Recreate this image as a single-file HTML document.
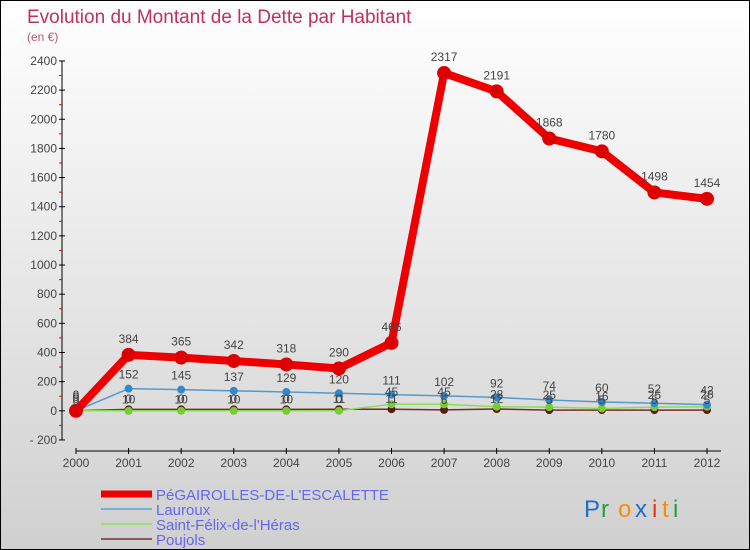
<!DOCTYPE html>
<html><head><meta charset="utf-8"><style>
body{margin:0}
#c{width:750px;height:550px;position:relative;box-sizing:border-box;border:1px solid #000;background:linear-gradient(#ffffff,#d0d0d0);overflow:hidden;font-family:"Liberation Sans",sans-serif}
</style></head><body>
<div id="c">
<svg id="s" width="750" height="550"></svg>
</div>
<script>
const years=[2000,2001,2002,2003,2004,2005,2006,2007,2008,2009,2010,2011,2012];
const pegairolles=[0,384,365,342,318,290,466,2317,2191,1868,1780,1498,1454];
const lauroux=[0,152,145,137,129,120,111,102,92,74,60,52,42];
const stfelix=[0,0,0,0,0,0,45,45,28,25,16,25,28];
const poujols=[0,10,10,10,10,11,11,6,12,5,5,5,5];
const yTicks=[-200,0,200,400,600,800,1000,1200,1400,1600,1800,2000,2200,2400];
const NS="http://www.w3.org/2000/svg";
const svg=document.getElementById('s');
function X(i){return 75+i*(706-75)/12;}
function Y(v){return 409.8-v*(379/2600);}
function el(t,a,txt){const e=document.createElementNS(NS,t);for(const k in a)e.setAttribute(k,a[k]);if(txt!==undefined)e.textContent=txt;svg.appendChild(e);return e;}
let t=el('text',{x:26,y:22,'font-size':19,fill:'#c0305a'},'Evolution du Montant de la Dette par Habitant');

t=el('text',{x:26,y:40,'font-size':12,fill:'#c0507a'},'(en €)');

let a=el('line',{x1:61,y1:Y(2400),x2:61,y2:Y(-200),stroke:'#000','stroke-width':1});

yTicks.forEach((v,i)=>{
  let l=el('line',{x1:58,y1:Y(v),x2:64,y2:Y(v),stroke:'#000'});
  
  if(i<yTicks.length-1){let m=el('line',{x1:58,y1:Y(v+100),x2:61,y2:Y(v+100),stroke:'#e00'});}
  let tx=el('text',{x:56,y:Y(v)+4,'font-size':12,fill:'#444','text-anchor':'end'},v===-200?'- 200':String(v));
  
});
a=el('line',{x1:75,y1:450,x2:720,y2:450,stroke:'#000'});

years.forEach((y,i)=>{
  let l=el('line',{x1:X(i),y1:447,x2:X(i),y2:453,stroke:'#000'});
  
  let tx=el('text',{x:X(i),y:466,'font-size':12,fill:'#444','text-anchor':'middle'},String(y));
  
});
function series(data,color,w,r,dot,name,labelOff){
  const p=data.map((v,i)=>X(i)+','+Y(v)).join(' ');
  let pl=el('polyline',{points:p,fill:'none',stroke:color,'stroke-width':w,'stroke-linejoin':'round'});
  
  data.forEach((v,i)=>{
    let c=el('circle',{cx:X(i),cy:Y(v),r:r,fill:dot});
    
  });
}
function labels(data,name,off){
  data.forEach((v,i)=>{
    let tx=el('text',{x:X(i),y:Y(v)-off,'font-size':12,fill:'#444','text-anchor':'middle'},String(v));
    
  });
}
series(poujols,'#7a2a2a',1.5,4,'#5a1a10','poujols');
series(stfelix,'#88dd55',1.5,4,'#77cc33','saint-felix');
series(lauroux,'#5599cc',1.5,4,'#3388cc','lauroux');
series(pegairolles,'#ee0000',8,7,'#dd0000','pegairolles');
labels(poujols,'poujols',6);
labels(stfelix,'saint-felix',8);
labels(lauroux,'lauroux',10);
labels(pegairolles,'pegairolles',12);
const leg=[['PéGAIROLLES-DE-L\'ESCALETTE','#ee0000',7,493],['Lauroux','#7ab0d8',2,508],['Saint-Félix-de-l\'Héras','#99dd77',2,523],['Poujols','#8a5a5a',2,538]];
leg.forEach(g=>{
  let l=el('line',{x1:100,y1:g[3],x2:151,y2:g[3],stroke:g[1],'stroke-width':g[2]});
  
  let tx=el('text',{x:155,y:g[3]+6,'font-size':15,fill:'#6666ee'},g[0]);
  
});
const logo=[['P','#1a6fcc'],['r','#2a9a3a'],['o','#ff8a00'],['x','#1a6fcc'],['i','#ee3300'],['t','#ff8a00'],['i','#2a9a3a']];
let lx=583;
logo.forEach(g=>{let tx=el('text',{x:lx,y:516,'font-size':24,fill:g[1]},g[0]);lx+=g[0]==='i'?10:(g[0]==='t'?11:17);});
</script>
</body></html>
